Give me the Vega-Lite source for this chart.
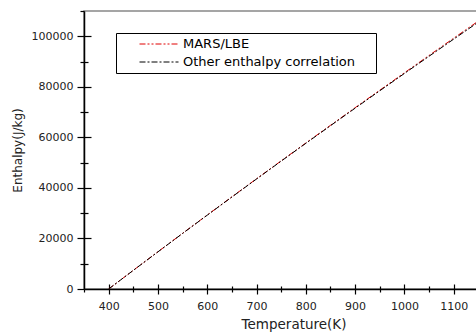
{
  "$schema": "https://vega.github.io/schema/vega-lite/v6.json",
  "autosize": {"type": "none"},
  "padding": {"left": 84, "top": 11, "right": 0, "bottom": 45},
  "width": 419,
  "height": 278,
  "config": {
    "font": "DejaVu Sans",
    "view": {"stroke": "#888888", "strokeWidth": 1.5},
    "legend": {
      "orient": "none",
      "legendX": 32,
      "legendY": 22,
      "strokeColor": "#000000",
      "strokeWidth": 1,
      "padding": 4,
      "symbolType": "M-3,0H3",
      "symbolSize": 169,
      "symbolStrokeWidth": 1,
      "symbolOffset": 32,
      "labelOffset": 17,
      "labelFontSize": 13,
      "labelFont": "DejaVu Sans",
      "labelColor": "#000000",
      "rowPadding": 4,
      "labelLimit": 400
    }
  },
  "data": {
    "values": [
      {"T": 400, "h": 0, "series": "MARS/LBE"},
      {"T": 450, "h": 7389, "series": "MARS/LBE"},
      {"T": 500, "h": 14733, "series": "MARS/LBE"},
      {"T": 550, "h": 22029, "series": "MARS/LBE"},
      {"T": 600, "h": 29273, "series": "MARS/LBE"},
      {"T": 650, "h": 36468, "series": "MARS/LBE"},
      {"T": 700, "h": 43613, "series": "MARS/LBE"},
      {"T": 750, "h": 50710, "series": "MARS/LBE"},
      {"T": 800, "h": 57761, "series": "MARS/LBE"},
      {"T": 850, "h": 64768, "series": "MARS/LBE"},
      {"T": 900, "h": 71733, "series": "MARS/LBE"},
      {"T": 950, "h": 78659, "series": "MARS/LBE"},
      {"T": 1000, "h": 85548, "series": "MARS/LBE"},
      {"T": 1050, "h": 92404, "series": "MARS/LBE"},
      {"T": 1100, "h": 99232, "series": "MARS/LBE"},
      {"T": 1150, "h": 106025, "series": "MARS/LBE"},
      {"T": 400, "h": 0, "series": "Other enthalpy correlation"},
      {"T": 450, "h": 7370, "series": "Other enthalpy correlation"},
      {"T": 500, "h": 14700, "series": "Other enthalpy correlation"},
      {"T": 550, "h": 21980, "series": "Other enthalpy correlation"},
      {"T": 600, "h": 29210, "series": "Other enthalpy correlation"},
      {"T": 650, "h": 36390, "series": "Other enthalpy correlation"},
      {"T": 700, "h": 43520, "series": "Other enthalpy correlation"},
      {"T": 750, "h": 50600, "series": "Other enthalpy correlation"},
      {"T": 800, "h": 57630, "series": "Other enthalpy correlation"},
      {"T": 850, "h": 64610, "series": "Other enthalpy correlation"},
      {"T": 900, "h": 71540, "series": "Other enthalpy correlation"},
      {"T": 950, "h": 78430, "series": "Other enthalpy correlation"},
      {"T": 1000, "h": 85280, "series": "Other enthalpy correlation"},
      {"T": 1050, "h": 92090, "series": "Other enthalpy correlation"},
      {"T": 1100, "h": 98870, "series": "Other enthalpy correlation"},
      {"T": 1150, "h": 105610, "series": "Other enthalpy correlation"}
    ]
  },
  "resolve": {"axis": {"x": "independent", "y": "independent"}},
  "layer": [
    {
      "mark": {"type": "line", "strokeWidth": 1, "clip": true},
      "encoding": {
        "x": {
          "field": "T", "type": "quantitative",
          "scale": {"domain": [350, 1200], "nice": false, "zero": false},
          "axis": {
            "orient": "bottom",
            "title": "Temperature(K)",
            "titleFontSize": 13.5,
            "titleFontWeight": "normal",
            "titleColor": "#222222",
            "titlePadding": 6,
            "values": [350, 400, 450, 500, 550, 600, 650, 700, 750, 800, 850, 900, 950, 1000, 1050, 1100, 1150],
            "labelExpr": "datum.value % 100 === 0 ? datum.label : ''",
            "format": "d",
            "labelFontSize": 11,
            "labelColor": "#222222",
            "labelPadding": 6,
            "labelFlush": false,
            "labelOverlap": false,
            "tickSize": {"condition": {"test": "datum.value % 100 === 0", "value": 5}, "value": 3},
            "tickColor": "#000000",
            "tickWidth": 1.2,
            "domainColor": "#000000",
            "domainWidth": 1.5,
            "grid": false
          }
        },
        "y": {
          "field": "h", "type": "quantitative",
          "scale": {"domain": [0, 110000], "nice": false},
          "axis": {
            "orient": "left",
            "title": "Enthalpy(J/kg)",
            "titleFontSize": 12,
            "titleFontWeight": "normal",
            "titleColor": "#222222",
            "titlePadding": 7,
            "values": [0, 10000, 20000, 30000, 40000, 50000, 60000, 70000, 80000, 90000, 100000, 110000],
            "labelExpr": "datum.value % 20000 === 0 ? datum.label : ''",
            "format": "d",
            "labelFontSize": 11,
            "labelColor": "#222222",
            "labelPadding": 4,
            "labelOverlap": false,
            "labelFlush": false,
            "tickSize": {"condition": {"test": "datum.value % 20000 === 0", "value": 7}, "value": 4},
            "tickColor": "#000000",
            "tickWidth": 1.2,
            "domainColor": "#000000",
            "domainWidth": 1.5,
            "grid": false
          }
        },
        "color": {
          "field": "series", "type": "nominal",
          "scale": {"domain": ["MARS/LBE", "Other enthalpy correlation"], "range": ["#e00000", "#000000"]},
          "legend": {
            "title": null,
            "labelExpr": "datum.label + '\u00a0\u00a0\u00a0\u00a0\u200b'",
            "encode": {
              "symbols": {
                "update": {
                  "stroke": {"scale": "color", "field": "value"},
                  "strokeDash": {"scale": "strokeDash", "field": "value"},
                  "fill": {"value": "transparent"}
                }
              }
            }
          }
        },
        "strokeDash": {
          "field": "series", "type": "nominal",
          "scale": {"domain": ["MARS/LBE", "Other enthalpy correlation"], "range": [[6, 2, 2, 2, 2, 2], [6, 2, 2, 2]]},
          "legend": null
        }
      }
    },
    {
      "mark": {"type": "line", "opacity": 0},
      "encoding": {
        "x": {
          "field": "T", "type": "quantitative",
          "scale": {"domain": [350, 1200], "nice": false, "zero": false},
          "axis": {
            "orient": "bottom",
            "title": null,
            "labels": false,
            "domain": false,
            "values": [400, 450, 500, 550, 600, 650, 700, 750, 800, 850, 900, 950, 1000, 1050, 1100, 1150],
            "tickSize": {"condition": {"test": "datum.value % 100 === 0", "value": -5}, "value": -3},
            "tickColor": "#000000",
            "tickWidth": 1.2,
            "grid": false
          }
        },
        "y": {
          "field": "h", "type": "quantitative",
          "scale": {"domain": [0, 110000], "nice": false},
          "axis": {
            "orient": "left",
            "title": null,
            "labels": false,
            "domain": false,
            "values": [10000, 20000, 30000, 40000, 50000, 60000, 70000, 80000, 90000, 100000],
            "tickSize": {"condition": {"test": "datum.value % 20000 === 0", "value": -7}, "value": -4},
            "tickColor": "#000000",
            "tickWidth": 1.2,
            "grid": false
          }
        },
        "detail": {"field": "series", "type": "nominal"}
      }
    }
  ]
}
